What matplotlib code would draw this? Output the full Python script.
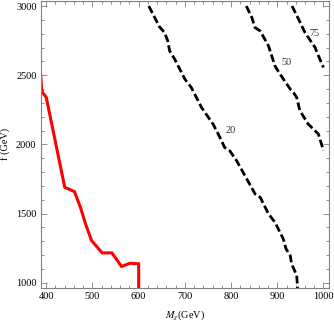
import matplotlib
matplotlib.use('Agg')

import matplotlib.pyplot as plt
from matplotlib.ticker import MultipleLocator

plt.rcParams['font.family'] = ['Liberation Serif', 'DejaVu Serif']
plt.rcParams['mathtext.fontset'] = 'stix'

# Curva roja (limite de exclusion)
red_m = [388, 390, 392, 400, 440, 461, 474, 485, 498, 521, 542, 563, 581, 600, 600]
red_f = [2500, 2400, 2375, 2340, 1690, 1659, 1545, 1426, 1305, 1216, 1216, 1118, 1141, 1137, 950]

# Contornos discontinuos
c20_m = [622, 645, 656, 663, 667, 678, 700, 714, 736, 761, 776, 786, 797, 812, 830,
         852, 863, 881, 895, 913, 919, 928, 931, 942, 944]
c20_f = [3000, 2850, 2808, 2748, 2676, 2616, 2472, 2411, 2267, 2147, 2050, 1978, 1955, 1882, 1774,
         1642, 1618, 1498, 1437, 1317, 1245, 1197, 1137, 1053, 960]

c50_m = [833, 845, 852, 863, 881, 895, 906, 928, 935, 942, 949, 967, 989, 1000]
c50_f = [3000, 2916, 2844, 2820, 2712, 2567, 2508, 2400, 2375, 2339, 2243, 2147, 2075, 1955]

c75_m = [932, 946, 960, 982, 986, 1000]
c75_f = [3000, 2905, 2808, 2700, 2664, 2556]

# Etiquetas de los contornos
labels = ['20', '50', '75']
label_m = [799, 920, 980]
label_f = [2098, 2592, 2800]

fig = plt.figure(figsize=(3.34, 3.23), dpi=100)
ax = fig.add_axes([0.1219, 0.1074, 0.8632, 0.8910])

ax.plot(red_m, red_f, color='red', lw=2.2, solid_joinstyle='miter')

for m, f in [(c20_m, c20_f), (c50_m, c50_f), (c75_m, c75_f)]:
    ax.plot(m, f, color='black', lw=2.0, linestyle=(0, (2.8, 1.2)), dash_capstyle='butt')

for t, m, f in zip(labels, label_m, label_f):
    ax.text(m, f, t, fontsize=7.4, color='#333333', ha='center', va='center')

ax.set_xlim(388, 1012)
ax.set_ylim(960, 3040)

ax.xaxis.set_major_locator(MultipleLocator(100))
ax.xaxis.set_minor_locator(MultipleLocator(20))
ax.yaxis.set_major_locator(MultipleLocator(500))
ax.yaxis.set_minor_locator(MultipleLocator(100))

ax.tick_params(which='both', direction='in', top=True, right=True, color='#808080',
               labelsize=7.4, pad=3, width=0.6)
ax.tick_params(which='major', length=4)
ax.tick_params(which='minor', length=2)

for s in ax.spines.values():
    s.set_color('#808080')
    s.set_linewidth(0.8)

ax.set_xlabel(r'$M_{\chi}$(GeV)', fontsize=7.4, labelpad=5)
ax.set_ylabel('f (GeV)', fontsize=7.4, labelpad=4)

fig.savefig('out.png', dpi=100)
